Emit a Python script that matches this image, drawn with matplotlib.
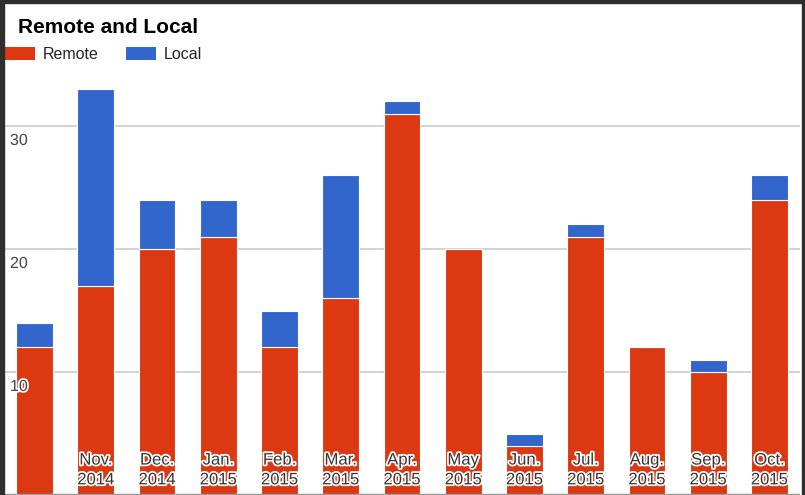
import matplotlib
matplotlib.use("Agg")
import matplotlib.pyplot as plt
import matplotlib.patheffects as pe
from matplotlib.patches import Patch, Rectangle

plt.rcParams['font.family'] = ['Liberation Sans', 'DejaVu Sans']

# ---- data ----
month_labels = ["", "Nov.\n2014", "Dec.\n2014", "Jan.\n2015", "Feb.\n2015", "Mar.\n2015",
                "Apr.\n2015", "May\n2015", "Jun.\n2015", "Jul.\n2015", "Aug.\n2015",
                "Sep.\n2015", "Oct.\n2015"]
remote = [12, 17, 20, 21, 12, 16, 31, 20, 4, 21, 12, 10, 24]
local = [2, 16, 4, 3, 3, 10, 1, 0, 1, 1, 0, 1, 2]
y_ticks = [10, 20, 30]
title = "Remote and Local"
series_names = ["Remote", "Local"]
colors = ["#DC3912", "#3366CC"]

W, H = 805, 495
fig = plt.figure(figsize=(W / 100, H / 100), dpi=100)
fig.patch.set_facecolor("white")

ax = fig.add_axes([4 / W, 0, 796 / W, 492 / H])
ax.set_xlim(-0.5, len(remote) - 0.5)
ax.set_ylim(0, 40)
for s in ax.spines.values():
    s.set_visible(False)
ax.set_xticks([])
ax.set_yticks([])

for v in y_ticks:
    ax.axhline(v, color="#cccccc", lw=1.2, zorder=0)
ax.axhline(0, color="#999999", lw=2.5, zorder=3)

x = list(range(len(remote)))
ax.bar(x, remote, width=0.6, color=colors[0], edgecolor="white", linewidth=0.8, zorder=2)
ax.bar(x, local, bottom=remote, width=0.6, color=colors[1], edgecolor="white", linewidth=0.8, zorder=2)

halo = [pe.withStroke(linewidth=2.5, foreground="white")]
for v in y_ticks:
    ax.annotate(str(v), xy=(6 / 796, v), xycoords=("axes fraction", "data"),
                xytext=(0, -5), textcoords="offset points", ha="left", va="top",
                fontsize=11.5, color="#444444", path_effects=halo, zorder=5)

for i, lab in enumerate(month_labels):
    if not lab:
        continue
    ax.annotate(lab, xy=(i, 0), xycoords=("data", "axes fraction"),
                xytext=(0, 5.5), textcoords="offset points", ha="center", va="bottom",
                fontsize=12, color="#363636", linespacing=1.4,
                path_effects=halo, zorder=5)

fig.text(18 / W, 1 - 33 / H, title, fontsize=15, fontweight="bold", color="black",
         ha="left", va="baseline")

handles = [Patch(facecolor=c, edgecolor="none") for c in colors]
fig.legend(handles, series_names, loc="upper left", bbox_to_anchor=(5 / W, 1 - 47 / H),
           ncol=2, frameon=False, fontsize=11.5, handlelength=1.88, handleheight=0.87,
           handletextpad=0.5, columnspacing=1.7, borderpad=0, borderaxespad=0,
           labelcolor="#222222")

# dark frame
dark = "#2e2e2e"
fig.patches.extend([
    Rectangle((0, 0), 4 / W, 1, transform=fig.transFigure, color=dark, zorder=10),
    Rectangle((0, 1 - 3 / H), 1, 3 / H, transform=fig.transFigure, color=dark, zorder=10),
    Rectangle((802 / W, 0), 3 / W, 1, transform=fig.transFigure, color=dark, zorder=10),
])

fig.savefig("out.png", dpi=100)
